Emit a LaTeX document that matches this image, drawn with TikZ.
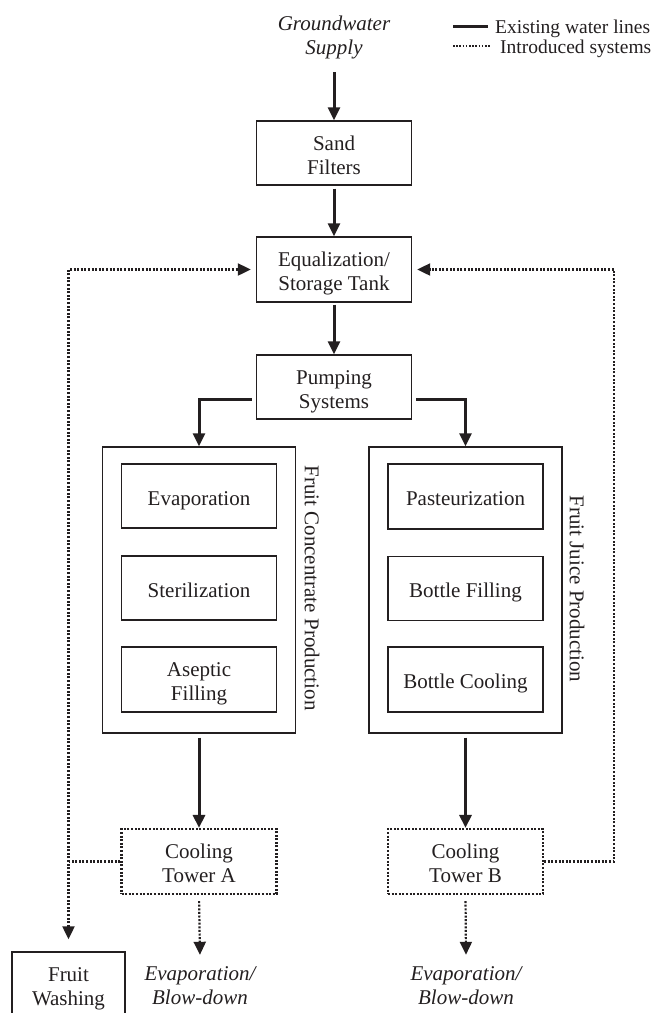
\documentclass[tikz,border=0pt]{standalone}
\usepackage{fontspec}
\setmainfont{Liberation Serif}
\usetikzlibrary{arrows.meta,calc}
\definecolor{ink}{RGB}{35,31,32}
\newcommand\myhi{\rule{0pt}{23pt}}
\newcommand\mylo{\rule[-5pt]{0pt}{5pt}}
\begin{document}
\begin{tikzpicture}[x=1pt,y=-1pt,
  txt/.style={font=\fontsize{21}{24}\selectfont, text=ink, align=center, inner sep=0pt},
  itxt/.style={txt, font=\fontsize{21}{24}\selectfont\itshape},
  box/.style={txt, draw=ink, line width=1.4pt, minimum width=155pt, minimum height=64pt},
  dbox/.style={box, line width=2.2pt, dash pattern=on 2pt off 1.6pt},
  cont/.style={draw=ink, line width=1.4pt, minimum width=193pt, minimum height=286pt, inner sep=0pt},
  side/.style={txt, rotate=-90},
  tip/.tip={Triangle[length=13pt,width=12pt]},
  flow/.style={draw=ink, line width=3pt, -tip},
  dline/.style={draw=ink, line width=2.2pt, dash pattern=on 2pt off 1.6pt},
  dflow/.style={dline, -tip},
  dboth/.style={dline, tip-tip},
  legtxt/.style={font=\fontsize{19.5}{24}\selectfont, text=ink, inner sep=0pt, anchor=base west}
]
\useasboundingbox (0,0) rectangle (651,1013);

% legend
\coordinate (la) at (453,26);
\coordinate (lb) at (488,26);
\coordinate (lc) at (453,46);
\coordinate (ld) at (490,46);
\draw[ink, line width=3pt] (la) -- (lb);
\draw[dline, line width=1.8pt, dash pattern=on 1.6pt off 1.6pt] (lc) -- (ld);
\node[legtxt] (leg1) at (495,33) {Existing water lines};
\node[legtxt] (leg2) at (500,53) {Introduced systems};

% main chain
\node[itxt] (gw) at (334,33) {\myhi Groundwater\\Supply\mylo};
\node[box] (sand) at (334,153) {\myhi Sand\\Filters\mylo};
\node[box, minimum height=65pt] (eq) at (334,269.5) {\myhi Equalization/\\Storage Tank\mylo};
\node[box] (pump) at (334,387) {\myhi Pumping\\Systems\mylo};

% containers
\node[cont] (lcont) at (199,590) {};
\node[cont] (rcont) at (465.5,590) {};
\node[side] (lsl) at (312,588) {Fruit Concentrate Production};
\node[side] (rsl) at (577,589) {Fruit Juice Production};

\node[box] (evap) at (199,496) {\myhi Evaporation\mylo};
\node[box] (ster) at (199,588) {\myhi Sterilization\mylo};
\node[box, minimum height=65pt] (asep) at (199,679.5) {\myhi Aseptic\\Filling\mylo};

\node[box, minimum height=65pt] (past) at (465.5,496.5) {\myhi Pasteurization\mylo};
\node[box] (bfill) at (465.5,588.5) {\myhi Bottle Filling\mylo};
\node[box, minimum height=65pt] (bcool) at (465.5,679.5) {\myhi Bottle Cooling\mylo};

% cooling towers
\node[dbox, minimum height=65pt] (ctA) at (199,861.5) {\myhi Cooling\\Tower A\mylo};
\node[dbox, minimum height=65pt] (ctB) at (465.5,861.5) {\myhi Cooling\\Tower B\mylo};

\node[itxt] (evA) at (200,983) {\myhi Evaporation/\\Blow-down\mylo};
\node[itxt] (evB) at (466,983) {\myhi Evaporation/\\Blow-down\mylo};

\node[box, minimum width=113pt, minimum height=64pt] (fw) at (68.5,984) {\myhi Fruit\\Washing\mylo};

\coordinate (rx) at (614,0);

% solid flows
\draw[flow, shorten <=13pt] (gw.south) -- (sand.north);
\draw[flow, shorten <=3pt] (sand.south) -- (eq.north);
\draw[flow, shorten <=2pt] (eq.south) -- (pump.north);
\draw[flow] ($(pump.west)+(-4,12)$) -| (lcont.north);
\draw[flow] ($(pump.east)+(4,12)$) -| (rcont.north);
\draw[flow, shorten <=4pt] (lcont.south) -- (ctA.north);
\draw[flow, shorten <=4pt] (rcont.south) -- (ctB.north);

% introduced (dotted) flows
\draw[dflow, shorten <=6pt, shorten >=2pt] (ctA.south) -- (evA.north);
\draw[dflow, shorten <=6pt, shorten >=2pt] (ctB.south) -- (evB.north);
\draw[dline] (ctA.west) -- (ctA.west -| fw.north);
\draw[dboth, shorten <=12pt, shorten >=5pt] (fw.north) -- (fw.north |- eq.west) -- (eq.west);
\draw[dflow, shorten >=5pt] (ctB.east) -- (ctB.east -| rx) -- (eq.east -| rx) -- (eq.east);

\end{tikzpicture}
\end{document}
